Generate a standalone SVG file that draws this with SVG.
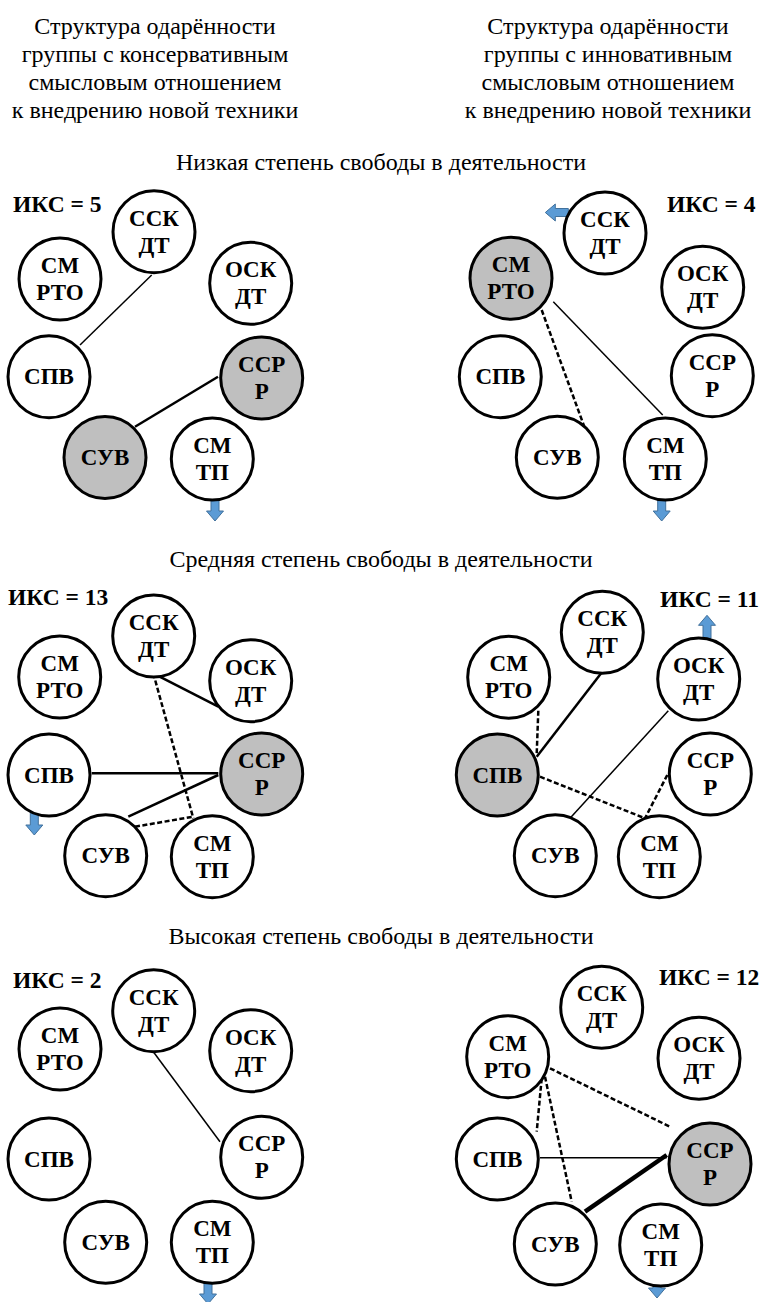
<svg xmlns="http://www.w3.org/2000/svg" width="763" height="1302" viewBox="0 0 763 1302">
<defs>
<path id="adown" d="M-4,0 H4 V13 H8.5 L0,23 L-8.5,13 H-4 Z" fill="#5b9bd5" stroke="#41719c" stroke-width="1"/>
<circle id="cw" r="41" fill="#fff" stroke="#000" stroke-width="3"/>
<circle id="cg" r="41" fill="#bfbfbf" stroke="#000" stroke-width="3"/>
</defs>
<g id="headers" fill="#000">
<text font-family="Liberation Serif" font-size="24" text-anchor="middle" x="155" y="33.5">Структура одарённости</text>
<text font-family="Liberation Serif" font-size="24" text-anchor="middle" x="155" y="62">группы с консервативным</text>
<text font-family="Liberation Serif" font-size="24" text-anchor="middle" x="155" y="90">смысловым отношением</text>
<text font-family="Liberation Serif" font-size="24" text-anchor="middle" x="155" y="118">к внедрению новой техники</text>
<text font-family="Liberation Serif" font-size="24" text-anchor="middle" x="608" y="33.5">Структура одарённости</text>
<text font-family="Liberation Serif" font-size="24" text-anchor="middle" x="608" y="62">группы с инновативным</text>
<text font-family="Liberation Serif" font-size="24" text-anchor="middle" x="608" y="90">смысловым отношением</text>
<text font-family="Liberation Serif" font-size="24" text-anchor="middle" x="608" y="118">к внедрению новой техники</text>
<text font-family="Liberation Serif" font-size="24" text-anchor="middle" x="381" y="170">Низкая степень свободы в деятельности</text>
<text font-family="Liberation Serif" font-size="24" text-anchor="middle" x="381" y="566.5">Средняя степень свободы в деятельности</text>
<text font-family="Liberation Serif" font-size="24" text-anchor="middle" x="381" y="944">Высокая степень свободы в деятельности</text>
</g>
<g id="labels" fill="#000">
<text font-family="Liberation Serif" font-size="23.5" font-weight="bold" x="13" y="211.5">ИКС = 5</text>
<text font-family="Liberation Serif" font-size="23.5" font-weight="bold" x="667" y="211.5">ИКС = 4</text>
<text font-family="Liberation Serif" font-size="23.5" font-weight="bold" x="8" y="605">ИКС = 13</text>
<text font-family="Liberation Serif" font-size="23.5" font-weight="bold" x="660" y="606.5">ИКС = 11</text>
<text font-family="Liberation Serif" font-size="23.5" font-weight="bold" x="13" y="988">ИКС = 2</text>
<text font-family="Liberation Serif" font-size="23.5" font-weight="bold" x="659" y="985">ИКС = 12</text>
</g>
<g id="connectors" stroke="#000" fill="none">
<line stroke-width="1.5" x1="151.7" y1="275" x2="80" y2="345"/>
<line stroke-width="2.5" x1="218" y1="376.7" x2="135" y2="426.7"/>
<line stroke-width="1.5" x1="553.3" y1="301.7" x2="662.7" y2="415"/>
<line stroke-width="2.5" stroke-dasharray="5 2.5" x1="541.7" y1="310" x2="586.7" y2="433.3"/>
<line stroke-width="2.5" x1="153.3" y1="673.3" x2="218.3" y2="706.7"/>
<line stroke-width="2.5" stroke-dasharray="5 2.5" x1="153.3" y1="673.3" x2="193.3" y2="818.3"/>
<line stroke-width="2.5" x1="91.7" y1="773.3" x2="218.3" y2="773.3"/>
<line stroke-width="2.5" x1="128.3" y1="816.7" x2="218.3" y2="775"/>
<line stroke-width="2.5" stroke-dasharray="5 2.5" x1="135" y1="826.7" x2="193.3" y2="816.7"/>
<line stroke-width="2.5" stroke-dasharray="5 2.5" x1="538.3" y1="710.7" x2="536.7" y2="754"/>
<line stroke-width="2.5" x1="602.3" y1="671.7" x2="536.7" y2="756.7"/>
<line stroke-width="1.5" x1="668.3" y1="710.7" x2="570" y2="818.3"/>
<line stroke-width="2.5" stroke-dasharray="5 2.5" x1="540" y1="776.7" x2="645" y2="818.3"/>
<line stroke-width="2.5" stroke-dasharray="5 2.5" x1="667.3" y1="775" x2="645" y2="818.3"/>
<line stroke-width="1.5" x1="153.3" y1="1051.7" x2="220" y2="1141.7"/>
<line stroke-width="2.5" stroke-dasharray="5 2.5" x1="550" y1="1068.3" x2="670" y2="1126.7"/>
<line stroke-width="2.5" stroke-dasharray="5 2.5" x1="541.7" y1="1078.3" x2="536.7" y2="1131.7"/>
<line stroke-width="2.5" stroke-dasharray="5 2.5" x1="545" y1="1076.7" x2="571.7" y2="1201.7"/>
<line stroke-width="1.5" x1="540" y1="1157.7" x2="666.7" y2="1157.7"/>
<line stroke-width="4.5" x1="585" y1="1211.7" x2="666.7" y2="1155"/>
</g>
<g id="arrows">
<use href="#adown" transform="translate(215,498)"/>
<use href="#adown" transform="translate(661.7,498)"/>
<use href="#adown" transform="translate(568.3,212.5) rotate(90)"/>
<use href="#adown" transform="translate(34.3,812)"/>
<use href="#adown" transform="translate(707,638.3) rotate(180)"/>
<use href="#adown" transform="translate(208,1281)"/>
<use href="#adown" transform="translate(657,1275)"/>
</g>
<g id="nodes" fill="#000">
<g id="p1-ssk"><use href="#cw" x="154" y="231.7"/><text font-family="Liberation Serif" font-size="23" font-weight="bold" text-anchor="middle" x="154" y="225.7">ССК</text><text font-family="Liberation Serif" font-size="23" font-weight="bold" text-anchor="middle" x="154" y="252.7">ДТ</text></g>
<g id="p1-smrto"><use href="#cw" x="60" y="279"/><text font-family="Liberation Serif" font-size="23" font-weight="bold" text-anchor="middle" x="60" y="273">СМ</text><text font-family="Liberation Serif" font-size="23" font-weight="bold" text-anchor="middle" x="60" y="300">РТО</text></g>
<g id="p1-osk"><use href="#cw" x="250.7" y="283.3"/><text font-family="Liberation Serif" font-size="23" font-weight="bold" text-anchor="middle" x="250.7" y="277.3">ОСК</text><text font-family="Liberation Serif" font-size="23" font-weight="bold" text-anchor="middle" x="250.7" y="304.3">ДТ</text></g>
<g id="p1-spv"><use href="#cw" x="49" y="376.7"/><text font-family="Liberation Serif" font-size="23" font-weight="bold" text-anchor="middle" x="49" y="384">СПВ</text></g>
<g id="p1-sspr"><use href="#cg" x="261.7" y="378"/><text font-family="Liberation Serif" font-size="23" font-weight="bold" text-anchor="middle" x="261.7" y="372">ССР</text><text font-family="Liberation Serif" font-size="23" font-weight="bold" text-anchor="middle" x="261.7" y="399">Р</text></g>
<g id="p1-suv"><use href="#cg" x="105" y="457.5"/><text font-family="Liberation Serif" font-size="23" font-weight="bold" text-anchor="middle" x="105" y="465">СУВ</text></g>
<g id="p1-smtp"><use href="#cw" x="212.3" y="459"/><text font-family="Liberation Serif" font-size="23" font-weight="bold" text-anchor="middle" x="212.3" y="453">СМ</text><text font-family="Liberation Serif" font-size="23" font-weight="bold" text-anchor="middle" x="212.3" y="480">ТП</text></g>
<g id="p2-ssk"><use href="#cw" x="605" y="233"/><text font-family="Liberation Serif" font-size="23" font-weight="bold" text-anchor="middle" x="605" y="227">ССК</text><text font-family="Liberation Serif" font-size="23" font-weight="bold" text-anchor="middle" x="605" y="254">ДТ</text></g>
<g id="p2-smrto"><use href="#cg" x="511" y="278.3"/><text font-family="Liberation Serif" font-size="23" font-weight="bold" text-anchor="middle" x="511" y="272.3">СМ</text><text font-family="Liberation Serif" font-size="23" font-weight="bold" text-anchor="middle" x="511" y="299.3">РТО</text></g>
<g id="p2-osk"><use href="#cw" x="702.7" y="287.3"/><text font-family="Liberation Serif" font-size="23" font-weight="bold" text-anchor="middle" x="702.7" y="281.3">ОСК</text><text font-family="Liberation Serif" font-size="23" font-weight="bold" text-anchor="middle" x="702.7" y="308.3">ДТ</text></g>
<g id="p2-spv"><use href="#cw" x="500.3" y="376.7"/><text font-family="Liberation Serif" font-size="23" font-weight="bold" text-anchor="middle" x="500.3" y="384">СПВ</text></g>
<g id="p2-sspr"><use href="#cw" x="712.3" y="375.7"/><text font-family="Liberation Serif" font-size="23" font-weight="bold" text-anchor="middle" x="712.3" y="369.7">ССР</text><text font-family="Liberation Serif" font-size="23" font-weight="bold" text-anchor="middle" x="712.3" y="396.7">Р</text></g>
<g id="p2-suv"><use href="#cw" x="557.3" y="457.3"/><text font-family="Liberation Serif" font-size="23" font-weight="bold" text-anchor="middle" x="557.3" y="464.8">СУВ</text></g>
<g id="p2-smtp"><use href="#cw" x="665.3" y="459"/><text font-family="Liberation Serif" font-size="23" font-weight="bold" text-anchor="middle" x="665.3" y="453">СМ</text><text font-family="Liberation Serif" font-size="23" font-weight="bold" text-anchor="middle" x="665.3" y="480">ТП</text></g>
<g id="p3-ssk"><use href="#cw" x="153.7" y="636"/><text font-family="Liberation Serif" font-size="23" font-weight="bold" text-anchor="middle" x="153.7" y="630">ССК</text><text font-family="Liberation Serif" font-size="23" font-weight="bold" text-anchor="middle" x="153.7" y="657">ДТ</text></g>
<g id="p3-smrto"><use href="#cw" x="59.7" y="677"/><text font-family="Liberation Serif" font-size="23" font-weight="bold" text-anchor="middle" x="59.7" y="671">СМ</text><text font-family="Liberation Serif" font-size="23" font-weight="bold" text-anchor="middle" x="59.7" y="698">РТО</text></g>
<g id="p3-osk"><use href="#cw" x="250.7" y="680.7"/><text font-family="Liberation Serif" font-size="23" font-weight="bold" text-anchor="middle" x="250.7" y="674.7">ОСК</text><text font-family="Liberation Serif" font-size="23" font-weight="bold" text-anchor="middle" x="250.7" y="701.7">ДТ</text></g>
<g id="p3-spv"><use href="#cw" x="49" y="775"/><text font-family="Liberation Serif" font-size="23" font-weight="bold" text-anchor="middle" x="49" y="782.5">СПВ</text></g>
<g id="p3-sspr"><use href="#cg" x="261.7" y="774"/><text font-family="Liberation Serif" font-size="23" font-weight="bold" text-anchor="middle" x="261.7" y="768">ССР</text><text font-family="Liberation Serif" font-size="23" font-weight="bold" text-anchor="middle" x="261.7" y="795">Р</text></g>
<g id="p3-suv"><use href="#cw" x="105.7" y="855.7"/><text font-family="Liberation Serif" font-size="23" font-weight="bold" text-anchor="middle" x="105.7" y="863.2">СУВ</text></g>
<g id="p3-smtp"><use href="#cw" x="212.3" y="856.7"/><text font-family="Liberation Serif" font-size="23" font-weight="bold" text-anchor="middle" x="212.3" y="850.7">СМ</text><text font-family="Liberation Serif" font-size="23" font-weight="bold" text-anchor="middle" x="212.3" y="877.7">ТП</text></g>
<g id="p4-ssk"><use href="#cw" x="602.3" y="632.3"/><text font-family="Liberation Serif" font-size="23" font-weight="bold" text-anchor="middle" x="602.3" y="626.3">ССК</text><text font-family="Liberation Serif" font-size="23" font-weight="bold" text-anchor="middle" x="602.3" y="653.3">ДТ</text></g>
<g id="p4-smrto"><use href="#cw" x="508.7" y="677.3"/><text font-family="Liberation Serif" font-size="23" font-weight="bold" text-anchor="middle" x="508.7" y="671.3">СМ</text><text font-family="Liberation Serif" font-size="23" font-weight="bold" text-anchor="middle" x="508.7" y="698.3">РТО</text></g>
<g id="p4-osk"><use href="#cw" x="698.7" y="679"/><text font-family="Liberation Serif" font-size="23" font-weight="bold" text-anchor="middle" x="698.7" y="673">ОСК</text><text font-family="Liberation Serif" font-size="23" font-weight="bold" text-anchor="middle" x="698.7" y="700">ДТ</text></g>
<g id="p4-spv"><use href="#cg" x="497.3" y="775"/><text font-family="Liberation Serif" font-size="23" font-weight="bold" text-anchor="middle" x="497.3" y="782.5">СПВ</text></g>
<g id="p4-sspr"><use href="#cw" x="710.3" y="774"/><text font-family="Liberation Serif" font-size="23" font-weight="bold" text-anchor="middle" x="710.3" y="768">ССР</text><text font-family="Liberation Serif" font-size="23" font-weight="bold" text-anchor="middle" x="710.3" y="795">Р</text></g>
<g id="p4-suv"><use href="#cw" x="555.3" y="855.7"/><text font-family="Liberation Serif" font-size="23" font-weight="bold" text-anchor="middle" x="555.3" y="863.2">СУВ</text></g>
<g id="p4-smtp"><use href="#cw" x="659.3" y="856.7"/><text font-family="Liberation Serif" font-size="23" font-weight="bold" text-anchor="middle" x="659.3" y="850.7">СМ</text><text font-family="Liberation Serif" font-size="23" font-weight="bold" text-anchor="middle" x="659.3" y="877.7">ТП</text></g>
<g id="p5-ssk"><use href="#cw" x="153.7" y="1010.7"/><text font-family="Liberation Serif" font-size="23" font-weight="bold" text-anchor="middle" x="153.7" y="1004.7">ССК</text><text font-family="Liberation Serif" font-size="23" font-weight="bold" text-anchor="middle" x="153.7" y="1031.7">ДТ</text></g>
<g id="p5-smrto"><use href="#cw" x="60" y="1049"/><text font-family="Liberation Serif" font-size="23" font-weight="bold" text-anchor="middle" x="60" y="1043">СМ</text><text font-family="Liberation Serif" font-size="23" font-weight="bold" text-anchor="middle" x="60" y="1070">РТО</text></g>
<g id="p5-osk"><use href="#cw" x="250.7" y="1050.7"/><text font-family="Liberation Serif" font-size="23" font-weight="bold" text-anchor="middle" x="250.7" y="1044.7">ОСК</text><text font-family="Liberation Serif" font-size="23" font-weight="bold" text-anchor="middle" x="250.7" y="1071.7">ДТ</text></g>
<g id="p5-spv"><use href="#cw" x="49" y="1159"/><text font-family="Liberation Serif" font-size="23" font-weight="bold" text-anchor="middle" x="49" y="1166.5">СПВ</text></g>
<g id="p5-sspr"><use href="#cw" x="261.7" y="1157.3"/><text font-family="Liberation Serif" font-size="23" font-weight="bold" text-anchor="middle" x="261.7" y="1151.3">ССР</text><text font-family="Liberation Serif" font-size="23" font-weight="bold" text-anchor="middle" x="261.7" y="1178.3">Р</text></g>
<g id="p5-suv"><use href="#cw" x="105.7" y="1242.3"/><text font-family="Liberation Serif" font-size="23" font-weight="bold" text-anchor="middle" x="105.7" y="1249.8">СУВ</text></g>
<g id="p5-smtp"><use href="#cw" x="212.3" y="1242.3"/><text font-family="Liberation Serif" font-size="23" font-weight="bold" text-anchor="middle" x="212.3" y="1236.3">СМ</text><text font-family="Liberation Serif" font-size="23" font-weight="bold" text-anchor="middle" x="212.3" y="1263.3">ТП</text></g>
<g id="p6-ssk"><use href="#cw" x="601.7" y="1007.3"/><text font-family="Liberation Serif" font-size="23" font-weight="bold" text-anchor="middle" x="601.7" y="1001.3">ССК</text><text font-family="Liberation Serif" font-size="23" font-weight="bold" text-anchor="middle" x="601.7" y="1028.3">ДТ</text></g>
<g id="p6-smrto"><use href="#cw" x="507.7" y="1056.7"/><text font-family="Liberation Serif" font-size="23" font-weight="bold" text-anchor="middle" x="507.7" y="1050.7">СМ</text><text font-family="Liberation Serif" font-size="23" font-weight="bold" text-anchor="middle" x="507.7" y="1077.7">РТО</text></g>
<g id="p6-osk"><use href="#cw" x="699" y="1058.3"/><text font-family="Liberation Serif" font-size="23" font-weight="bold" text-anchor="middle" x="699" y="1052.3">ОСК</text><text font-family="Liberation Serif" font-size="23" font-weight="bold" text-anchor="middle" x="699" y="1079.3">ДТ</text></g>
<g id="p6-spv"><use href="#cw" x="497.3" y="1159"/><text font-family="Liberation Serif" font-size="23" font-weight="bold" text-anchor="middle" x="497.3" y="1166.5">СПВ</text></g>
<g id="p6-sspr"><use href="#cg" x="710" y="1164"/><text font-family="Liberation Serif" font-size="23" font-weight="bold" text-anchor="middle" x="710" y="1158">ССР</text><text font-family="Liberation Serif" font-size="23" font-weight="bold" text-anchor="middle" x="710" y="1185">Р</text></g>
<g id="p6-suv"><use href="#cw" x="555.3" y="1244"/><text font-family="Liberation Serif" font-size="23" font-weight="bold" text-anchor="middle" x="555.3" y="1251.5">СУВ</text></g>
<g id="p6-smtp"><use href="#cw" x="660.7" y="1245"/><text font-family="Liberation Serif" font-size="23" font-weight="bold" text-anchor="middle" x="660.7" y="1239">СМ</text><text font-family="Liberation Serif" font-size="23" font-weight="bold" text-anchor="middle" x="660.7" y="1266">ТП</text></g>
</g>
</svg>
